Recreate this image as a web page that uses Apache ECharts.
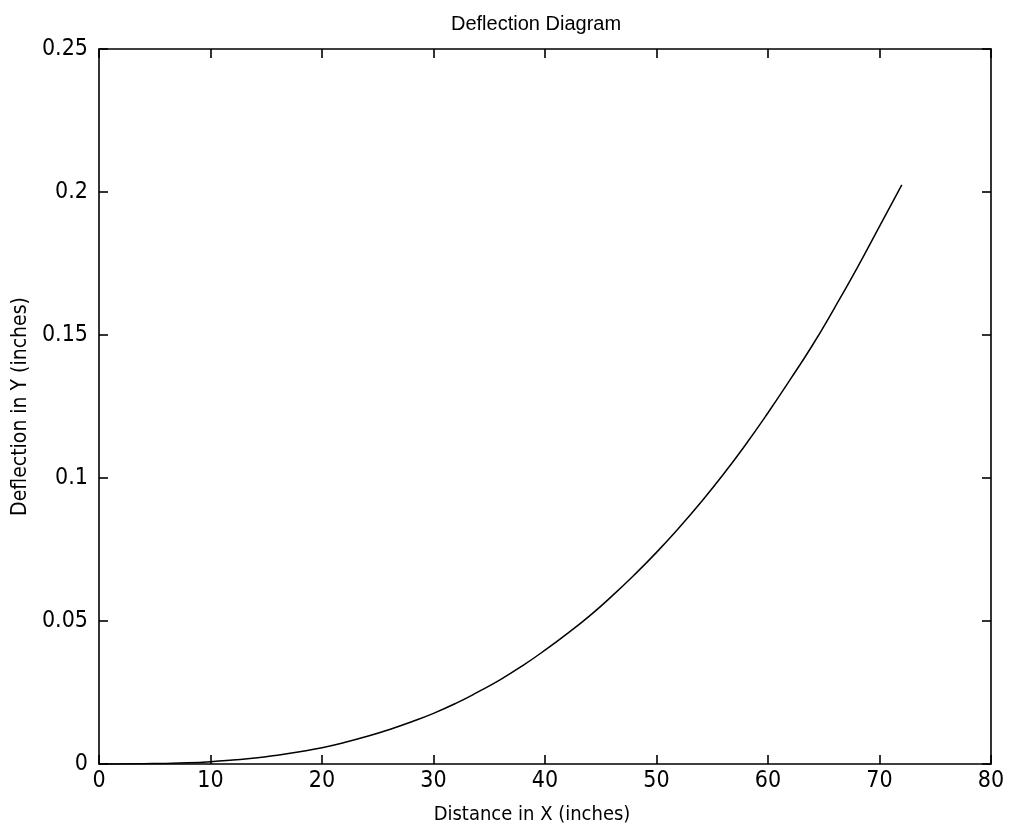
<!DOCTYPE html>
<html>
<head>
<meta charset="utf-8">
<title>Deflection Diagram</title>
<script src="https://cdn.jsdelivr.net/npm/echarts@6/dist/echarts.min.js"></script>
<style>
    html, body { margin: 0; padding: 0; background: #fff; }
    #main { width: 1011px; height: 833px; }
</style>
</head>
<body>
<div id="main"></div>
<script>
// distance along the beam (inches)
var distance = [0, 2, 4, 6, 8, 10, 12, 14, 16, 18, 20, 22, 24, 26, 28, 30, 32, 34, 36,
    38, 40, 42, 44, 46, 48, 50, 52, 54, 56, 58, 60, 62, 64, 66, 68, 70, 72];
// deflection (inches)
var deflection = [0, 0, 0.0001, 0.0002, 0.0004, 0.0008, 0.0014, 0.0021, 0.0031, 0.0043,
    0.0057, 0.0075, 0.0096, 0.0120, 0.0147, 0.0177, 0.0212, 0.0252, 0.0295,
    0.0344, 0.0398, 0.0456, 0.0518, 0.0587, 0.0661, 0.0740, 0.0825, 0.0916,
    0.1013, 0.1117, 0.1228, 0.1345, 0.1465, 0.1597, 0.1735, 0.1880, 0.2025];

var xTicks = {min: 0, max: 80, interval: 10};
var yTicks = {min: 0, max: 0.25, interval: 0.05};

var font = "'Liberation Sans Narrow', 'DejaVu Sans Condensed', sans-serif";

var myChart = echarts.init(document.getElementById('main'), null, {renderer: 'canvas'});

// shared look for the box axes
function boxAxis(extra) {
    var base = {
        type: 'value',
        axisLine: {show: true, onZero: false, lineStyle: {color: '#000', width: 1.6}},
        axisTick: {show: true, inside: true, length: 9, lineStyle: {color: '#000', width: 1.6}},
        splitLine: {show: false},
        axisLabel: {show: false}
    };
    return Object.assign(base, extra);
}

var points = distance.map(function (x, i) {
    return [x, deflection[i]];
});

var option = {
    animation: false,
    backgroundColor: '#fff',
    title: {
        text: 'Deflection Diagram',
        left: 446,
        top: 9,
        textStyle: {
            fontFamily: "'Liberation Sans', sans-serif",
            fontSize: 20,
            fontWeight: 'normal',
            color: '#000'
        }
    },
    grid: {
        left: 99,
        right: 20,
        top: 49,
        bottom: 69
    },
    xAxis: [
        boxAxis({
            min: xTicks.min, max: xTicks.max, interval: xTicks.interval,
            position: 'bottom',
            name: 'Distance in X (inches)',
            nameLocation: 'middle',
            nameGap: 41,
            nameTextStyle: {fontFamily: font, fontSize: 20, color: '#000', padding: [0, 26, 0, 0]},
            axisLabel: {show: true, margin: 6, fontFamily: font, fontSize: 23, color: '#000'}
        }),
        boxAxis({
            min: xTicks.min, max: xTicks.max, interval: xTicks.interval,
            position: 'top'
        })
    ],
    yAxis: [
        boxAxis({
            min: yTicks.min, max: yTicks.max, interval: yTicks.interval,
            position: 'left',
            name: 'Deflection in Y (inches)',
            nameLocation: 'middle',
            nameGap: 62,
            nameTextStyle: {fontFamily: font, fontSize: 21, color: '#000'},
            axisLabel: {show: true, margin: 11, fontFamily: font, fontSize: 23, color: '#000'}
        }),
        boxAxis({
            min: yTicks.min, max: yTicks.max, interval: yTicks.interval,
            position: 'right'
        })
    ],
    series: [
        {
            name: 'deflection',
            type: 'line',
            xAxisIndex: 0,
            yAxisIndex: 0,
            data: points,
            showSymbol: false,
            smooth: true,
            lineStyle: {color: '#000', width: 1.5}
        }
    ]
};

myChart.setOption(option);
</script>
</body>
</html>
